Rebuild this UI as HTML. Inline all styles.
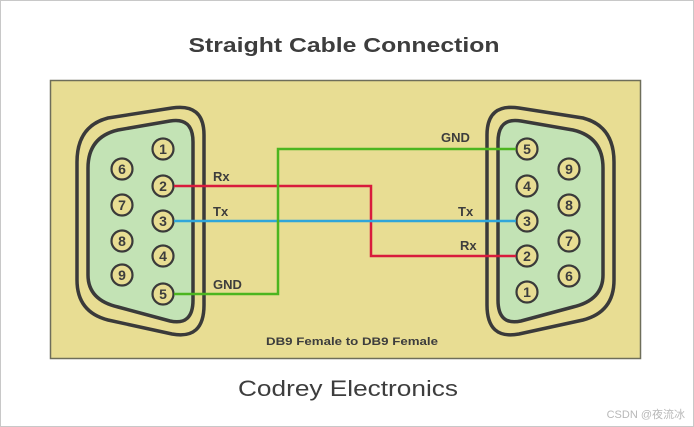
<!DOCTYPE html>
<html><head><meta charset="utf-8"><style>
html,body{margin:0;padding:0;background:#fff}
svg{display:block}
text{font-family:"Liberation Sans","Noto Sans CJK SC",sans-serif;fill:#3d3d3d}
</style></head><body>
<svg width="694" height="427" viewBox="0 0 694 427" xmlns="http://www.w3.org/2000/svg">
<rect x="0.5" y="0.5" width="693" height="426" fill="#fff" stroke="#c8c8c8"/>
<text x="344" y="52" text-anchor="middle" font-size="20" font-weight="bold" textLength="311" lengthAdjust="spacingAndGlyphs">Straight Cable Connection</text>
<rect x="50.5" y="80.5" width="590" height="278" fill="#e8dd93" stroke="#6e6e5a" stroke-width="1.5"/>
<g id="conn" stroke="#3a3a3a" stroke-width="3.5">
<path d="M108,118 Q77,126 77,162 L77,280 Q77,312 108,320 L172,334 Q204,340 204,305 L204,135 Q204,103 172,108 Z" fill="#e8dd93"/>
<path d="M118,130 Q88,137 88,168 L88,275 Q88,300 118,307 L170,321 Q193,326 193,300 L193,142 Q193,117 170,121 Z" fill="#c3e3b5"/>
</g>
<use href="#conn" transform="translate(691,0) scale(-1,1)"/>
<g stroke="#3a3a3a" stroke-width="2.2" fill="#e8dd93">
<circle cx="163" cy="149" r="10.5"/><circle cx="163" cy="186" r="10.5"/><circle cx="163" cy="221" r="10.5"/><circle cx="163" cy="256" r="10.5"/><circle cx="163" cy="294" r="10.5"/>
<circle cx="122" cy="169" r="10.5"/><circle cx="122" cy="205" r="10.5"/><circle cx="122" cy="241" r="10.5"/><circle cx="122" cy="275" r="10.5"/>
<circle cx="527" cy="149" r="10.5"/><circle cx="527" cy="186" r="10.5"/><circle cx="527" cy="221" r="10.5"/><circle cx="527" cy="256" r="10.5"/><circle cx="527" cy="292" r="10.5"/>
<circle cx="569" cy="169" r="10.5"/><circle cx="569" cy="205" r="10.5"/><circle cx="569" cy="241" r="10.5"/><circle cx="569" cy="276" r="10.5"/>
</g>
<g font-size="14" font-weight="bold" text-anchor="middle">
<text x="163" y="154">1</text><text x="163" y="191">2</text><text x="163" y="226">3</text><text x="163" y="261">4</text><text x="163" y="299">5</text>
<text x="122" y="174">6</text><text x="122" y="210">7</text><text x="122" y="246">8</text><text x="122" y="280">9</text>
<text x="527" y="154">5</text><text x="527" y="191">4</text><text x="527" y="226">3</text><text x="527" y="261">2</text><text x="527" y="297">1</text>
<text x="569" y="174">9</text><text x="569" y="210">8</text><text x="569" y="246">7</text><text x="569" y="281">6</text>
</g>
<g fill="none" stroke-width="2.5">
<path d="M174,186 H371 V256 H516" stroke="#d81b3c"/>
<path d="M174,221 H516" stroke="#2fa6da"/>
<path d="M174,294 H278 V149 H516" stroke="#4cb51f"/>
</g>
<g font-size="13" font-weight="bold">
<text x="213" y="181">Rx</text><text x="213" y="216">Tx</text><text x="213" y="289">GND</text>
<text x="441" y="142">GND</text><text x="458" y="216">Tx</text><text x="460" y="250">Rx</text>
</g>
<text x="352" y="345" text-anchor="middle" font-size="11" font-weight="bold" textLength="172" lengthAdjust="spacingAndGlyphs">DB9 Female to DB9 Female</text>
<text x="348" y="396" text-anchor="middle" font-size="22" textLength="220" lengthAdjust="spacingAndGlyphs">Codrey Electronics</text>
<text x="685" y="418" text-anchor="end" font-size="11" style="fill:#b8b8b8">CSDN @夜流冰</text>
</svg>
</body></html>
